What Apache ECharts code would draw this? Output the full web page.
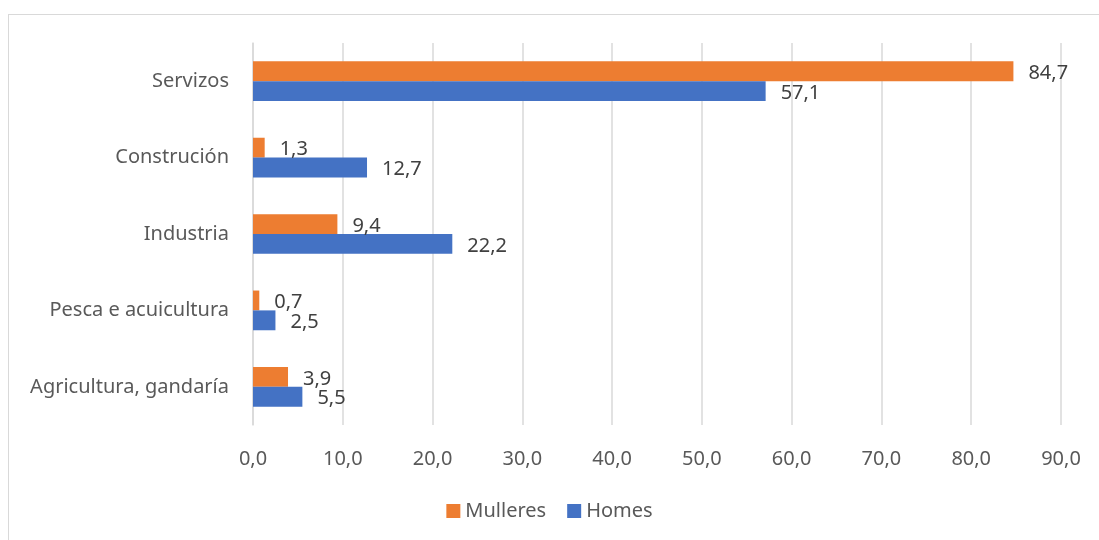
<!DOCTYPE html>
<html>
<head>
<meta charset="utf-8">
<script src="https://cdn.jsdelivr.net/npm/echarts@6/dist/echarts.min.js"></script>
<style>
  html, body { margin: 0; padding: 0; background: #fff; }
  #frame { position: absolute; left: 8px; top: 14px; width: 1200px; height: 600px; border: 1px solid #d9d9d9; box-sizing: border-box; }
  #chart { position: absolute; left: 0; top: 0; width: 1099px; height: 540px; }
</style>
</head>
<body>
<div id="frame"></div>
<div id="chart"></div>
<script>
const categories = ['Agricultura, gandaría', 'Pesca e acuicultura', 'Industria', 'Construción', 'Servizos']
const mulleres = [3.9, 0.7, 9.4, 1.3, 84.7]
const homes = [5.5, 2.5, 22.2, 12.7, 57.1]
const xTicks = [0, 90, 10]

const fmt = v => v.toFixed(1).replace('.', ',')
const font = 'Noto Sans'
const fs = 20

// etiqueta de datos comun para as dúas series
const dataLabel = {
  show: true,
  position: 'right',
  distance: 15,
  offset: [0, 2],
  color: '#404040',
  fontSize: fs,
  fontFamily: font,
  formatter: p => fmt(p.value)
}

const chart = echarts.init(document.getElementById('chart'))
chart.setOption({
  animation: false,
  color: ['#ED7D31', '#4472C4'],
  grid: { left: 253, right: 38, top: 43, bottom: 115 },
  legend: {
    data: ['Mulleres', 'Homes'],
    top: 496,
    left: 'center',
    icon: 'rect',
    itemWidth: 14,
    itemHeight: 14,
    itemGap: 21,
    textStyle: { color: '#595959', fontSize: fs, fontFamily: font }
  },
  xAxis: {
    type: 'value',
    min: xTicks[0],
    max: xTicks[1],
    interval: xTicks[2],
    axisLine: { show: false },
    axisTick: { show: false },
    splitLine: { lineStyle: { color: '#d9d9d9', width: 1.5 } },
    axisLabel: {
      margin: 24,
      color: '#595959',
      fontSize: fs,
      fontFamily: font,
      formatter: v => fmt(v)
    }
  },
  yAxis: {
    type: 'category',
    data: categories,
    axisLine: { lineStyle: { color: '#d9d9d9', width: 1.5 } },
    axisTick: { show: false },
    axisLabel: { margin: 24, color: '#595959', fontSize: fs, fontFamily: font }
  },
  series: [
    {
      name: 'Mulleres',
      type: 'bar',
      data: mulleres,
      barGap: '0%',
      barCategoryGap: '48%',
      label: dataLabel
    },
    {
      name: 'Homes',
      type: 'bar',
      data: homes,
      barGap: '0%',
      barCategoryGap: '48%',
      label: dataLabel
    }
  ]
})
</script>
</body>
</html>
